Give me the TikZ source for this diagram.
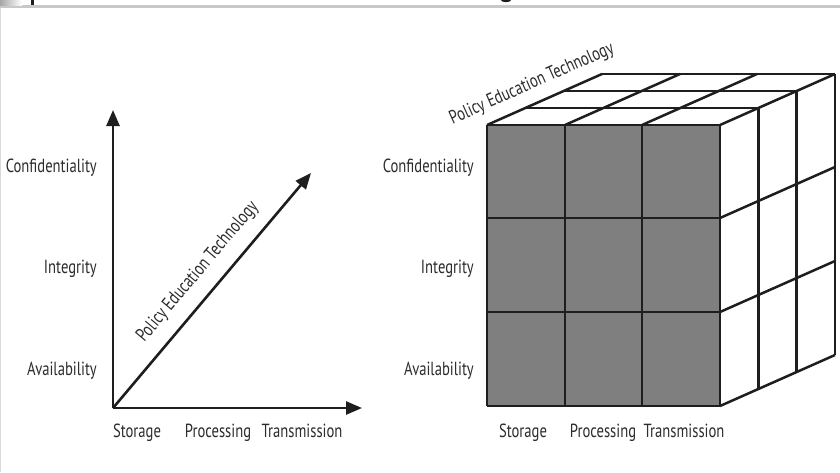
\documentclass[tikz,border=0pt]{standalone}
\usepackage{fontspec}
\setmainfont[FakeStretch=0.77]{PT Sans}
\usetikzlibrary{arrows.meta}
\definecolor{ink}{HTML}{1E1E1E}
\definecolor{txt}{HTML}{2C2C2C}
\definecolor{cellgray}{HTML}{7F7F7F}
\definecolor{bandgray}{HTML}{C8C8C8}
\begin{document}
\begin{tikzpicture}[x=1pt,y=-1pt,
  axis/.style={line width=2.6pt,draw=ink,-{Triangle[length=16pt,width=13pt]}},
  grid/.style={line width=2.5pt,draw=ink,line join=miter},
  lbl/.style={text=txt,font=\fontsize{19}{22}\selectfont,inner sep=0pt},
  rlbl/.style={lbl,anchor=base east},
  blbl/.style={lbl,anchor=base}]
\useasboundingbox (0,0) rectangle (840,472);
\fill[white] (0,0) rectangle (840,472);
% header strip
\fill[bandgray] (0,5) rectangle (840,8);
\fill[left color=gray!70,right color=white] (0,0) rectangle (22,5);
\fill[ink] (31,0) rectangle (33.5,4.5);
\fill[ink] (506,0) ellipse (5 and 2.2);
\draw[gray!30,line width=0.8pt] (0.5,8) -- (0.5,472);

% ---------- left: three axes ----------
\coordinate (O) at (113,408);
\coordinate (Ytip) at (113,110);
\coordinate (Xtip) at (362,408);
\coordinate (Ztip) at (311,173);
\draw[axis] (O) -- (Ytip);
\draw[axis] (O) -- (Xtip);
\draw[axis] (O) -- (Ztip);
\node[rlbl] (lconf) at (97,172) {Confidentiality};
\node[rlbl] (linte) at (97,273) {Integrity};
\node[rlbl] (lavai) at (97,375) {Availability};
\node[blbl] (lstor) at (137,437) {Storage};
\node[blbl] (lproc) at (218,437) {Processing};
\node[blbl] (ltran) at (302,437) {Transmission};
\node[lbl,rotate=49.9] (lpet) at (198,272) {Policy Education Technology};

% ---------- right: the cube ----------
\def\dx{38.33}
\def\dy{-17}
% front face cells
\fill[cellgray] (487,125) rectangle (720,406);
\foreach \x in {487,565,642,720} \draw[grid] (\x,125) -- (\x,406);
\foreach \y in {125,218,312,406} \draw[grid] (487,\y) -- (720,\y);
% top face
\foreach \k in {1,2,3}
  \draw[grid] (487+\k*\dx,125+\k*\dy) -- (720+\k*\dx,125+\k*\dy);
\foreach \x in {487,565,642,720}
  \draw[grid] (\x,125) -- (\x+3*\dx,125+3*\dy);
% right face
\foreach \k in {1,2,3}
  \draw[grid] (720+\k*\dx,125+\k*\dy) -- (720+\k*\dx,406+\k*\dy);
\foreach \y in {218,312,406}
  \draw[grid] (720,\y) -- (720+3*\dx,\y+3*\dy);
\node[rlbl] (cconf) at (474,172) {Confidentiality};
\node[rlbl] (cinte) at (474,273) {Integrity};
\node[rlbl] (cavai) at (474,375) {Availability};
\node[blbl] (cstor) at (523,437) {Storage};
\node[blbl] (cproc) at (603,437) {Processing};
\node[blbl] (ctran) at (684,437) {Transmission};
\node[lbl,rotate=23.9] (cpet) at (532,84) {Policy Education Technology};
\end{tikzpicture}
\end{document}
